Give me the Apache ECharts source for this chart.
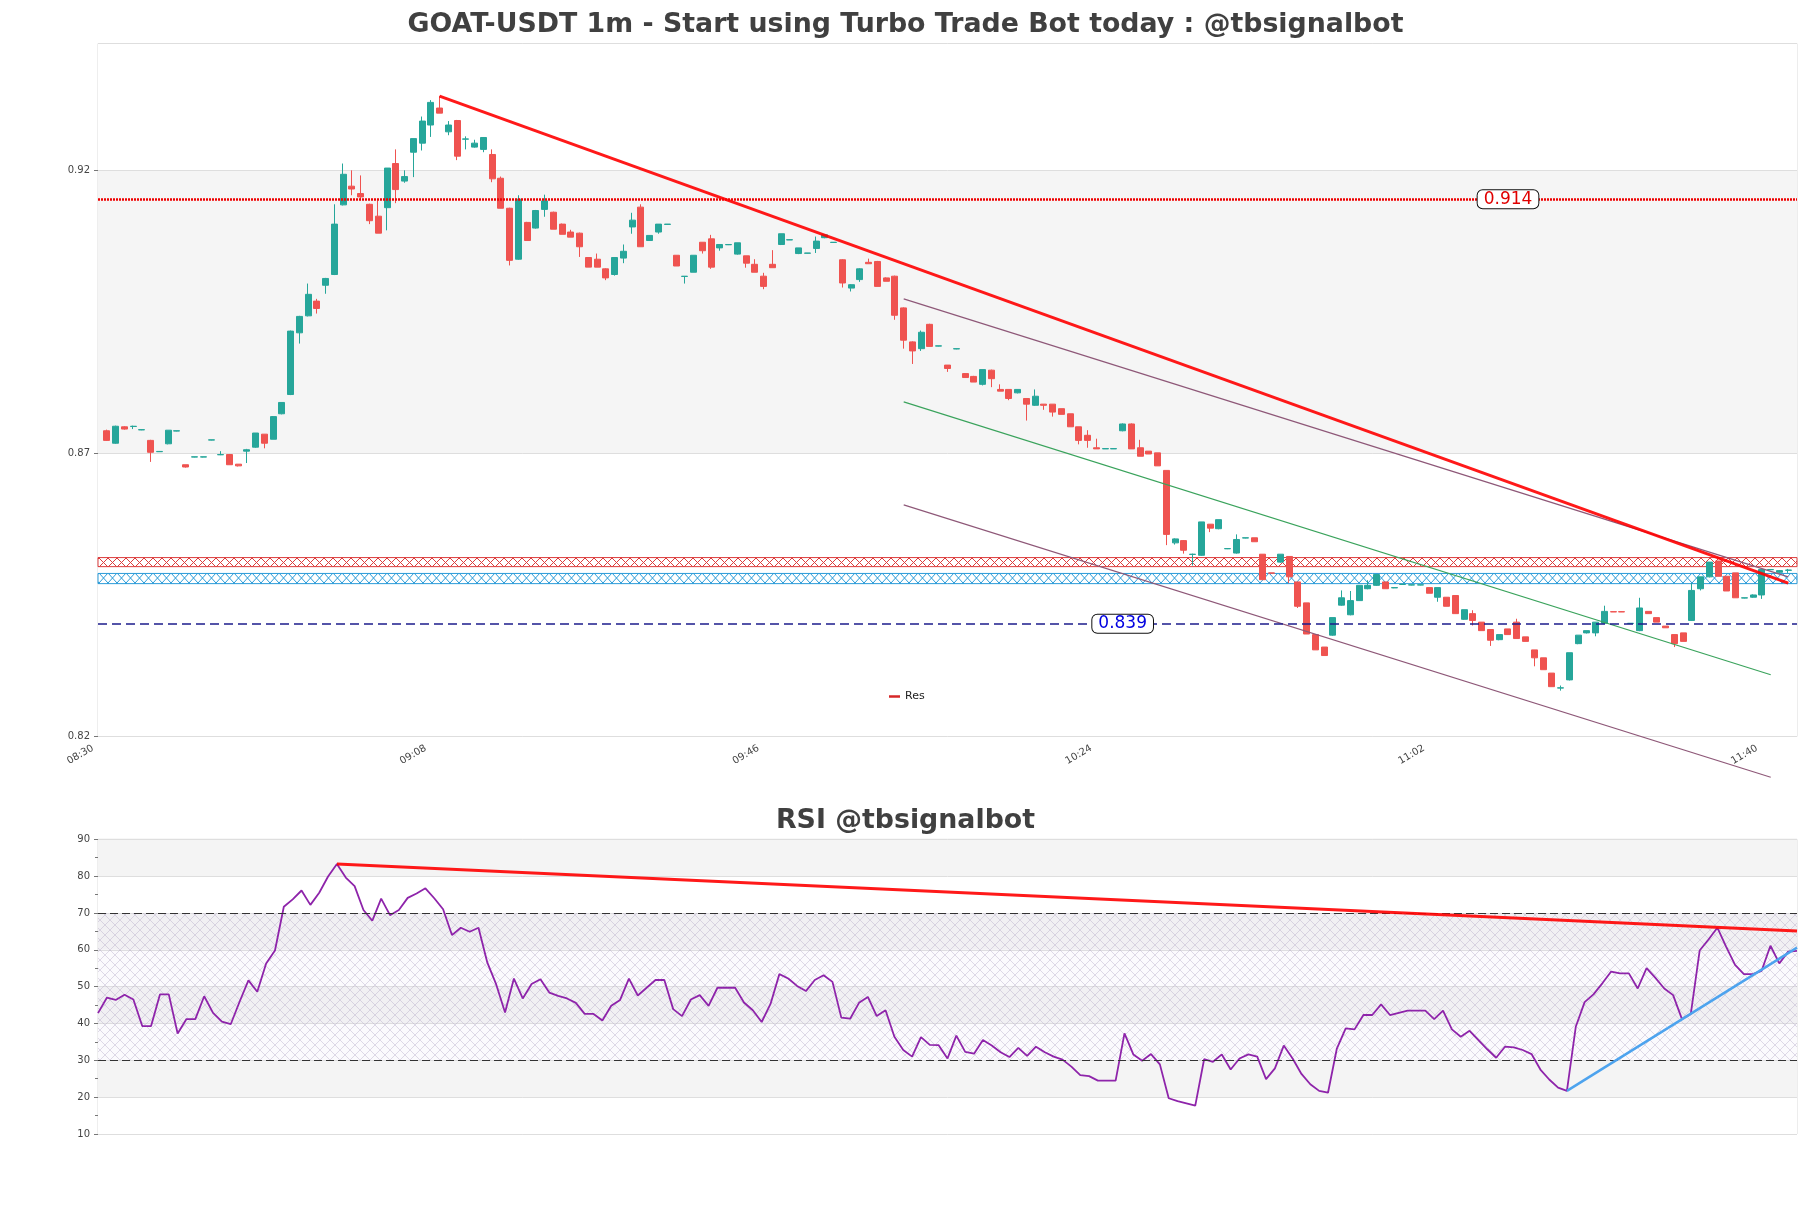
<!DOCTYPE html>
<html>
<head>
<meta charset="utf-8">
<title>GOAT-USDT 1m</title>
<script src="https://cdn.jsdelivr.net/npm/echarts@6/dist/echarts.min.js"></script>
<style>
  html, body { margin: 0; padding: 0; background: #fff; }
  #main { width: 1811px; height: 1208px; }
</style>
</head>
<body>
<div id="main"></div>
<script>
// 1m candles from 08:30, each row is [open, high, low, close]
const candles = [
  [0.8740, 0.8742, 0.8722, 0.8723], [0.8718, 0.8749, 0.8717, 0.8748], [0.8747, 0.8748, 0.8742, 0.8743], [0.87475, 0.8749, 0.8743, 0.8748],
  [0.87415, 0.8742, 0.8741, 0.8742], [0.8723, 0.8724, 0.8685, 0.8702], [0.8703, 0.8704, 0.8703, 0.87035], [0.8717, 0.8741, 0.8716, 0.8741],
  [0.87395, 0.8740, 0.8739, 0.8740], [0.8680, 0.8680, 0.8675, 0.8676], [0.86935, 0.8694, 0.8693, 0.8694], [0.86935, 0.8694, 0.8693, 0.8694],
  [0.87235, 0.8724, 0.8723, 0.8724], [0.86975, 0.8704, 0.8697, 0.8698], [0.8698, 0.8699, 0.8680, 0.8680], [0.8681, 0.8681, 0.8677, 0.8678],
  [0.8704, 0.8708, 0.8683, 0.87065], [0.8711, 0.8736, 0.8710, 0.8736], [0.8734, 0.8734, 0.8709, 0.8718], [0.8725, 0.8766, 0.8725, 0.8765],
  [0.8770, 0.8790, 0.8769, 0.8790], [0.8804, 0.8917, 0.8803, 0.8916], [0.8913, 0.8943, 0.8894, 0.8942], [0.8943, 0.9000, 0.8942, 0.8981],
  [0.8969, 0.8973, 0.8947, 0.8956], [0.8997, 0.9010, 0.8982, 0.9009], [0.9016, 0.9140, 0.9015, 0.9105], [0.9139, 0.9212, 0.9138, 0.9193],
  [0.9172, 0.9200, 0.9156, 0.9167], [0.9159, 0.9191, 0.9147, 0.9153], [0.9140, 0.9141, 0.9105, 0.9111], [0.9119, 0.9147, 0.9089, 0.9089],
  [0.9134, 0.9204, 0.9094, 0.9204], [0.9212, 0.9237, 0.9142, 0.9166], [0.9181, 0.9200, 0.9178, 0.9189], [0.9232, 0.9256, 0.9188, 0.9256],
  [0.9248, 0.9295, 0.9235, 0.9287], [0.9280, 0.9324, 0.9259, 0.9320], [0.9310, 0.9331, 0.9301, 0.9301], [0.9268, 0.9287, 0.9262, 0.9280],
  [0.9288, 0.9289, 0.9218, 0.9225], [0.9255, 0.9260, 0.9237, 0.92555], [0.9241, 0.9254, 0.9240, 0.9248], [0.9237, 0.9258, 0.9232, 0.9258],
  [0.9228, 0.9237, 0.9179, 0.9185], [0.9186, 0.9189, 0.9133, 0.9133], [0.9133, 0.9134, 0.9032, 0.9041], [0.9043, 0.9156, 0.9042, 0.9149],
  [0.9108, 0.9109, 0.9076, 0.9076], [0.9098, 0.9130, 0.9097, 0.9129], [0.9131, 0.9157, 0.9118, 0.9146], [0.9126, 0.9127, 0.9096, 0.9096],
  [0.9105, 0.9106, 0.9087, 0.9087], [0.9091, 0.9095, 0.9082, 0.9082], [0.9089, 0.9090, 0.9047, 0.9065], [0.9046, 0.9046, 0.9029, 0.9029],
  [0.9043, 0.9053, 0.9029, 0.9029], [0.9026, 0.9027, 0.9006, 0.9010], [0.9016, 0.9046, 0.9014, 0.9046], [0.9045, 0.9069, 0.9036, 0.9057],
  [0.9100, 0.9125, 0.9088, 0.9112], [0.9135, 0.9140, 0.9065, 0.9065], [0.9076, 0.9085, 0.9076, 0.9085], [0.9091, 0.9105, 0.9088, 0.9105],
  [0.91045, 0.9105, 0.9104, 0.9105], [0.9050, 0.9050, 0.9031, 0.9031], [0.90125, 0.9013, 0.9000, 0.9013], [0.9020, 0.9050, 0.9020, 0.9050],
  [0.9073, 0.9073, 0.9053, 0.9058], [0.9079, 0.9086, 0.9026, 0.9029], [0.9063, 0.9069, 0.9058, 0.9069], [0.90685, 0.9069, 0.9068, 0.9069],
  [0.9052, 0.9072, 0.9051, 0.9072], [0.9049, 0.9049, 0.9028, 0.9036], [0.9034, 0.9043, 0.9020, 0.9020], [0.9013, 0.9019, 0.8990, 0.8995],
  [0.9034, 0.9059, 0.9028, 0.9028], [0.9069, 0.9088, 0.9068, 0.9088], [0.9077, 0.9078, 0.9077, 0.90775], [0.9053, 0.9063, 0.9052, 0.9063],
  [0.90535, 0.9054, 0.9053, 0.9054], [0.9062, 0.9083, 0.9054, 0.9075], [0.9081, 0.9087, 0.9080, 0.9086], [0.90725, 0.9073, 0.9072, 0.9073],
  [0.9042, 0.9043, 0.8993, 0.9001], [0.8992, 0.8999, 0.8986, 0.8998], [0.9007, 0.9027, 0.9003, 0.9026], [0.90375, 0.9044, 0.9035, 0.9035],
  [0.9039, 0.9040, 0.8995, 0.8995], [0.9010, 0.9011, 0.9004, 0.9004], [0.9013, 0.9014, 0.8936, 0.8944], [0.8957, 0.8958, 0.8885, 0.8900],
  [0.8897, 0.8898, 0.8858, 0.8881], [0.8885, 0.8917, 0.8881, 0.8914], [0.8928, 0.8929, 0.8889, 0.8889], [0.88895, 0.8890, 0.8889, 0.8890],
  [0.8856, 0.8856, 0.8844, 0.8850], [0.88845, 0.8885, 0.8884, 0.8885], [0.8841, 0.8842, 0.8834, 0.8834], [0.8836, 0.8837, 0.8826, 0.8826],
  [0.8822, 0.8848, 0.8820, 0.8848], [0.8847, 0.8848, 0.8817, 0.8832], [0.8813, 0.8822, 0.8810, 0.8810], [0.8813, 0.8813, 0.8794, 0.8797],
  [0.8807, 0.8813, 0.8806, 0.8813], [0.8797, 0.8797, 0.8758, 0.8787], [0.8785, 0.8813, 0.8784, 0.8801], [0.8787, 0.8787, 0.8777, 0.8785],
  [0.8787, 0.8787, 0.8765, 0.8773], [0.8779, 0.8779, 0.8769, 0.8769], [0.8770, 0.8770, 0.8747, 0.8747], [0.8747, 0.8747, 0.8716, 0.8723],
  [0.8732, 0.8741, 0.8710, 0.8723], [0.8710, 0.8726, 0.8708, 0.8708], [0.8708, 0.8709, 0.8708, 0.87085], [0.8708, 0.8709, 0.8708, 0.87085],
  [0.8740, 0.8753, 0.8739, 0.8752], [0.8752, 0.8753, 0.8708, 0.8708], [0.8710, 0.8724, 0.8695, 0.8695], [0.8704, 0.8704, 0.8699, 0.8699],
  [0.8701, 0.8701, 0.8678, 0.8678], [0.8670, 0.8670, 0.8538, 0.8557], [0.8542, 0.8550, 0.8539, 0.8549], [0.8546, 0.8547, 0.8523, 0.8529],
  [0.85215, 0.8523, 0.8502, 0.8522], [0.8520, 0.8579, 0.8519, 0.8579], [0.8575, 0.8575, 0.8561, 0.8568], [0.8567, 0.8583, 0.8566, 0.8583],
  [0.85315, 0.8532, 0.8531, 0.8532], [0.8524, 0.8557, 0.8523, 0.8548], [0.85505, 0.8551, 0.8550, 0.8551], [0.8551, 0.8551, 0.8544, 0.8544],
  [0.8522, 0.8522, 0.8477, 0.8477], [0.8489, 0.8489, 0.8488, 0.84885], [0.8508, 0.8522, 0.8507, 0.8522], [0.8518, 0.8518, 0.8471, 0.8482],
  [0.8473, 0.8473, 0.8427, 0.8430], [0.8436, 0.8436, 0.8381, 0.8381], [0.8380, 0.8380, 0.8353, 0.8353], [0.8358, 0.8358, 0.8343, 0.8343],
  [0.8379, 0.8410, 0.8378, 0.8410], [0.8432, 0.8458, 0.8431, 0.8445], [0.8415, 0.8457, 0.8414, 0.8440], [0.8440, 0.8467, 0.8440, 0.8467],
  [0.8461, 0.8476, 0.8460, 0.8467], [0.8467, 0.8486, 0.8466, 0.8486], [0.8473, 0.8473, 0.8461, 0.8461], [0.84625, 0.8463, 0.8462, 0.8463],
  [0.84685, 0.8469, 0.8468, 0.8469], [0.84675, 0.8468, 0.8467, 0.8468], [0.84675, 0.8468, 0.8467, 0.8468], [0.8463, 0.8463, 0.8453, 0.8453],
  [0.8446, 0.8463, 0.8438, 0.8463], [0.8446, 0.8446, 0.8430, 0.8430], [0.8449, 0.8449, 0.8417, 0.8417], [0.8407, 0.8424, 0.8406, 0.8424],
  [0.8417, 0.8423, 0.8396, 0.8405], [0.8402, 0.8402, 0.8387, 0.8387], [0.8389, 0.8389, 0.8360, 0.8370], [0.8371, 0.8380, 0.8370, 0.8380],
  [0.8390, 0.8390, 0.8380, 0.8380], [0.8402, 0.8408, 0.8373, 0.8373], [0.8376, 0.8376, 0.8368, 0.8368], [0.8353, 0.8353, 0.8324, 0.8339],
  [0.8339, 0.8339, 0.8318, 0.8318], [0.8312, 0.8312, 0.8288, 0.8288], [0.82855, 0.8290, 0.8281, 0.8286], [0.8300, 0.8348, 0.8299, 0.8348],
  [0.8364, 0.8379, 0.8363, 0.8379], [0.8383, 0.8387, 0.8382, 0.8387], [0.8383, 0.8402, 0.8377, 0.8402], [0.8400, 0.8431, 0.8399, 0.8421],
  [0.84205, 0.8421, 0.8420, 0.8420], [0.84205, 0.8421, 0.8420, 0.8420], [0.83995, 0.8400, 0.8399, 0.8400], [0.8387, 0.8445, 0.8386, 0.8427],
  [0.8421, 0.8421, 0.8417, 0.8417], [0.8410, 0.8410, 0.8402, 0.8402], [0.8395, 0.8395, 0.8392, 0.8392], [0.8380, 0.8380, 0.8358, 0.8364],
  [0.8383, 0.8383, 0.8368, 0.8368], [0.8405, 0.8471, 0.8404, 0.8458], [0.8461, 0.8482, 0.8458, 0.8482], [0.8482, 0.8508, 0.8481, 0.8508],
  [0.8510, 0.8510, 0.8483, 0.8483], [0.8483, 0.8483, 0.8457, 0.8457], [0.8489, 0.8489, 0.8445, 0.8445], [0.84445, 0.8445, 0.8444, 0.8445],
  [0.8446, 0.8451, 0.8445, 0.8450], [0.8450, 0.8495, 0.8443, 0.8495], [0.84945, 0.8495, 0.8494, 0.8495], [0.8490, 0.8494, 0.8489, 0.8493],
  [0.84935, 0.8496, 0.8489, 0.8494]
]

const rsi = [
  42.8, 47.0, 46.4, 47.8, 46.5, 39.3, 39.3, 47.9, 47.9, 37.3,
  41.2, 41.2, 47.4, 42.9, 40.5, 39.8, 45.9, 51.7, 48.6, 56.3,
  59.8, 71.7, 73.7, 76.1, 72.2, 75.5, 79.9, 83.3, 79.6, 77.3,
  70.8, 67.9, 73.9, 69.4, 70.8, 74.1, 75.3, 76.7, 74.0, 71.0,
  64.0, 66.0, 64.9, 66.0, 56.5, 50.6, 43.0, 52.2, 46.8, 50.7,
  52.0, 48.4, 47.5, 46.8, 45.6, 42.6, 42.6, 40.8, 44.8, 46.4,
  52.2, 47.6, 49.7, 51.8, 51.8, 43.9, 42.0, 46.5, 47.7, 44.8,
  49.7, 49.7, 49.7, 45.7, 43.6, 40.4, 45.3, 53.4, 52.2, 50.2,
  48.8, 51.8, 53.1, 51.3, 41.6, 41.3, 45.6, 47.2, 42.0, 43.6,
  36.4, 32.8, 31.0, 36.3, 34.2, 34.1, 30.5, 36.7, 32.3, 31.8,
  35.5, 34.0, 32.2, 30.9, 33.4, 31.2, 33.7, 32.2, 31.0, 30.2,
  28.3, 26.0, 25.7, 24.5, 24.5, 24.5, 37.3, 31.6, 29.9, 31.7,
  28.9, 19.7, 18.9, 18.3, 17.7, 30.3, 29.6, 31.6, 27.5, 30.5,
  31.6, 31.0, 24.9, 27.8, 34.0, 30.5, 26.3, 23.5, 21.7, 21.2,
  33.2, 38.7, 38.4, 42.3, 42.3, 45.2, 42.3, 42.9, 43.5, 43.5,
  43.5, 41.2, 43.5, 38.4, 36.4, 38.0, 35.5, 33.0, 30.7, 33.7,
  33.5, 32.8, 31.7, 27.5, 24.8, 22.6, 21.7, 39.1, 45.8, 47.9,
  50.9, 54.1, 53.6, 53.6, 49.5, 55.0, 52.4, 49.5, 47.7, 41.2,
  42.6, 59.8, 62.8, 66.0, 60.8, 55.9, 53.4, 53.4, 54.3, 61.1,
  56.3, 59.5, 59.7
]

// horizontal levels and their boxed labels (candle index where the label sits)
const levelValues = [0.9149, 0.8399]
const levelLabels = ['0.914', '0.839']
const levelLabelAt = [160, 116]

// hatched zones [low, high]
const resZone = [0.8500, 0.8516]
const supZone = [0.8470, 0.8488]

// trend lines as [candle index, price]
const resLine = [[38, 0.9331], [192, 0.8471]]
const chanTop = [[91, 0.8973], [192, 0.8482]]
const chanMid = [[91, 0.8791], [190, 0.8309]]
const chanLow = [[91, 0.8609], [190, 0.8128]]

// rsi trend lines as [index, rsi]
const rsiRes = [[27, 83.3], [192, 65.1]]
const rsiSup = [[166, 21.7], [192, 60.6]]

const startMinute = 8 * 60 + 30
const times = []
for (let i = 0; i < candles.length; i++) {
  const t = startMinute + i
  times.push(String(Math.floor(t / 60)).padStart(2, '0') + ':' + String(t % 60).padStart(2, '0'))
}
// one empty slot at each end of the price axis, as in the picture
const xCats = [''].concat(times, [''])
const shift = pts => pts.map(p => [p[0] + 1, p[1]])

function hatch(color, w, h, off, tint) {
  const cv = document.createElement('canvas')
  cv.width = w
  cv.height = h
  const ctx = cv.getContext('2d')
  if (tint) {
    ctx.fillStyle = tint
    ctx.fillRect(0, 0, w, h)
  }
  ctx.strokeStyle = color
  ctx.lineWidth = 1
  ctx.beginPath()
  for (const dy of [-h, 0, h]) {
    ctx.moveTo(0, off + dy)
    ctx.lineTo(w, off + dy + h)
    ctx.moveTo(0, off + dy + h)
    ctx.lineTo(w, off + dy)
  }
  ctx.stroke()
  return { image: cv, repeat: 'repeat' }
}

const chart = echarts.init(document.getElementById('main'))

const axisFont = { fontFamily: 'DejaVu Sans', fontSize: 10, color: '#444' }
const titleFont = { fontFamily: 'DejaVu Sans', fontSize: 26.8, fontWeight: 'bold', color: '#404040' }

const option = {
  animation: false,
  backgroundColor: '#fff',
  textStyle: { fontFamily: 'DejaVu Sans' },
  title: [
    { text: 'GOAT-USDT 1m - Start using Turbo Trade Bot today : @tbsignalbot', left: 'center', top: 7, textStyle: titleFont },
    { text: 'RSI @tbsignalbot', left: 'center', top: 803, textStyle: titleFont }
  ],
  legend: {
    data: [{ name: 'Res', itemStyle: { color: '#d62728' } }],
    left: 884, top: 686, icon: 'rect', itemWidth: 11, itemHeight: 2.5,
    selectedMode: false, textStyle: { fontSize: 11, color: '#222' }
  },
  grid: [
    { left: 98, top: 43.5, width: 1699, height: 693, show: true, borderColor: '#dcdcdc', borderWidth: 1 },
    { left: 98, top: 839.3, width: 1699, height: 294.7, show: true, borderColor: '#dcdcdc', borderWidth: 1 }
  ],
  xAxis: [
    {
      type: 'category', gridIndex: 0, data: xCats, boundaryGap: false,
      axisLine: { show: false }, axisTick: { show: false }, splitLine: { show: false },
      axisLabel: Object.assign({ interval: idx => idx >= 1 && (idx - 1) % 38 === 0, rotate: 30, margin: 3, padding: [0, 16, 0, 0] }, axisFont)
    },
    {
      type: 'category', gridIndex: 1, data: times, boundaryGap: false,
      axisLine: { show: false }, axisTick: { show: false }, axisLabel: { show: false }, splitLine: { show: false }
    }
  ],
  yAxis: [
    {
      type: 'value', gridIndex: 0, min: 0.82, max: 0.9424, interval: 0.05,
      axisLine: { show: false },
      axisTick: { show: true, length: 4, lineStyle: { color: '#777' } },
      axisLabel: Object.assign({ showMaxLabel: false, formatter: v => v.toFixed(2) }, axisFont),
      splitLine: { lineStyle: { color: '#dedede' } },
      splitArea: { show: true, areaStyle: { color: ['#ffffff', '#f5f5f5'] } }
    },
    {
      type: 'value', gridIndex: 1, min: 10, max: 90, interval: 10,
      axisLine: { show: false },
      axisTick: { show: true, length: 4, lineStyle: { color: '#777' } },
      minorTick: { show: true, splitNumber: 2, length: 3, lineStyle: { color: '#777' } },
      axisLabel: axisFont,
      splitLine: { lineStyle: { color: '#dedede' } },
      splitArea: { show: true, areaStyle: { color: ['#ffffff', '#f4f4f4'] } }
    }
  ],
  series: [
    {
      name: 'zones', type: 'line', xAxisIndex: 0, yAxisIndex: 0, data: [], z: 1, silent: true,
      markArea: {
        silent: true,
        data: [
          [{ yAxis: resZone[1], itemStyle: { color: 'transparent', borderColor: '#dc3c3c', borderWidth: 1 } }, { yAxis: resZone[0] }],
          [{ yAxis: supZone[1], itemStyle: { color: 'transparent', borderColor: '#2a9bd8', borderWidth: 1 } }, { yAxis: supZone[0] }]
        ]
      }
    },
    {
      name: 'GOAT-USDT', type: 'candlestick', xAxisIndex: 0, yAxisIndex: 0, z: 3, barWidth: 6.5,
      encode: { x: 0, y: [1, 2, 3, 4] },
      data: candles.map((c, i) => [i + 1, c[0], c[3], c[2], c[1]]),
      itemStyle: { color: '#26a69a', color0: '#ef5350', borderColor: '#26a69a', borderColor0: '#ef5350', borderWidth: 1 }
    },
    {
      name: 'levels', type: 'line', xAxisIndex: 0, yAxisIndex: 0, data: [], z: 4, silent: true,
      markLine: {
        silent: true, symbol: ['none', 'none'], label: { show: false }, precision: 5,
        data: [
          { yAxis: levelValues[0], lineStyle: { color: '#ee0000', width: 2.5, type: [2, 1] } },
          { yAxis: levelValues[1], lineStyle: { color: '#1c1c8c', width: 1.5, type: [9, 5] } }
        ]
      },
      markPoint: {
        silent: true, symbol: 'rect', symbolSize: 1, itemStyle: { color: 'transparent' },
        label: {
          show: true, position: 'inside', fontSize: 17, backgroundColor: '#fff',
          borderColor: '#111', borderWidth: 1, borderRadius: 5, padding: [1, 6, 0, 6]
        },
        data: [
          { coord: [levelLabelAt[0] + 1, levelValues[0]], label: { formatter: levelLabels[0], color: '#e00000' } },
          { coord: [levelLabelAt[1] + 1, levelValues[1]], label: { formatter: levelLabels[1], color: '#0000e0' } }
        ]
      }
    },
    {
      name: 'chanTop', type: 'line', xAxisIndex: 0, yAxisIndex: 0, z: 4, silent: true, symbol: 'none',
      data: shift(chanTop), lineStyle: { color: '#8e5878', width: 1.2 }
    },
    {
      name: 'chanMid', type: 'line', xAxisIndex: 0, yAxisIndex: 0, z: 4, silent: true, symbol: 'none',
      data: shift(chanMid), lineStyle: { color: '#3aa35c', width: 1.1 }
    },
    {
      name: 'chanLow', type: 'line', xAxisIndex: 0, yAxisIndex: 0, z: 4, silent: true, symbol: 'none', clip: false,
      data: shift(chanLow), lineStyle: { color: '#8e5878', width: 1.2 }
    },
    {
      name: 'Res', type: 'line', xAxisIndex: 0, yAxisIndex: 0, z: 5, silent: true, symbol: 'none',
      data: shift(resLine), itemStyle: { color: '#d62728' }, lineStyle: { color: 'rgba(255,0,0,0.9)', width: 3 }
    },
    {
      name: 'RSI', type: 'line', xAxisIndex: 1, yAxisIndex: 1, z: 4, silent: true, symbol: 'none',
      data: rsi, lineStyle: { color: '#8e24aa', width: 1.8 },
      markLine: {
        silent: true, symbol: ['none', 'none'], label: { show: false },
        lineStyle: { color: '#333', width: 1.2, type: [8, 4] },
        data: [{ yAxis: 70 }, { yAxis: 30 }]
      },
      markArea: {
        silent: true,
        data: [[{ yAxis: 70, itemStyle: { color: 'transparent' } }, { yAxis: 30 }]]
      }
    },
    {
      name: 'rsiRes', type: 'line', xAxisIndex: 1, yAxisIndex: 1, z: 5, silent: true, symbol: 'none',
      data: rsiRes, lineStyle: { color: 'rgba(255,0,0,0.9)', width: 3 }
    },
    {
      name: 'rsiSup', type: 'line', xAxisIndex: 1, yAxisIndex: 1, z: 5, silent: true, symbol: 'none',
      data: rsiSup, lineStyle: { color: '#4da3ee', width: 2.5 }
    }
  ]
}

chart.setOption(option)

// line the X hatching up with the zone edges using the axis scale
function zoneHatch(zone, color) {
  const top = chart.convertToPixel({ yAxisIndex: 0 }, zone[1])
  const bottom = chart.convertToPixel({ yAxisIndex: 0 }, zone[0])
  const h = Math.max(4, Math.round(bottom - top))
  const off = ((Math.round(top) % h) + h) % h
  return hatch(color, 9, h, off)
}
option.series[0].markArea.data[0][0].itemStyle.color = zoneHatch(resZone, '#dc3c3c')
option.series[0].markArea.data[1][0].itemStyle.color = zoneHatch(supZone, '#2a9bd8')
option.series[7].markArea.data[0][0].itemStyle.color = hatch('rgba(175,165,195,0.4)', 10, 10, 0, 'rgba(225,210,240,0.12)')
chart.setOption(option)
</script>
</body>
</html>
